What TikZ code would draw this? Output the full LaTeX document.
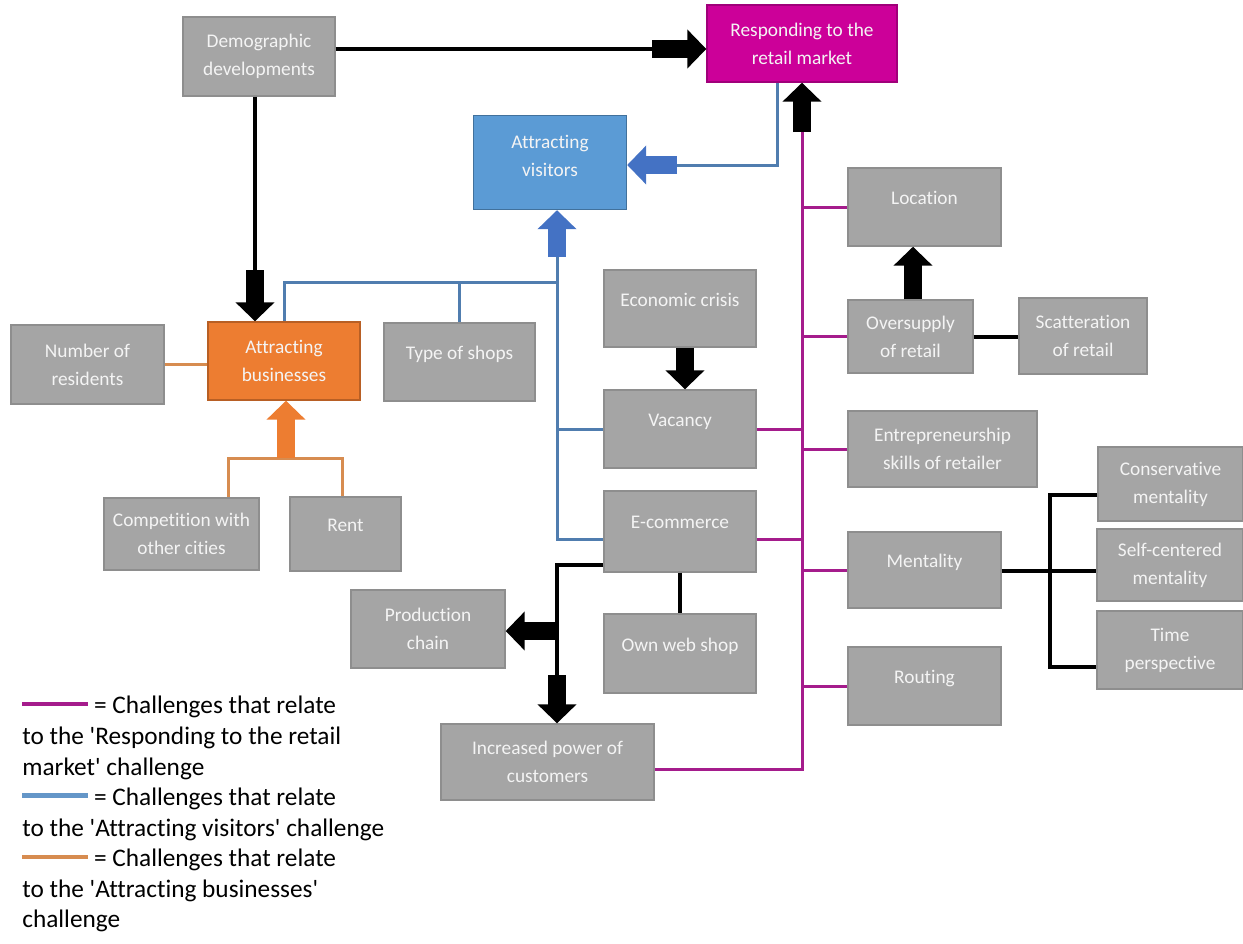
\documentclass[tikz,border=0pt]{standalone}
\usepackage{fontspec}
\setmainfont{Carlito}[Ligatures={NoCommon}]
\usetikzlibrary{arrows.meta}

\definecolor{boxgray}{HTML}{A5A5A5}
\definecolor{boxedge}{HTML}{8E8E8E}
\definecolor{boxtext}{HTML}{F4F4F4}
\definecolor{retail}{HTML}{CC0099}
\definecolor{retailedge}{HTML}{A0007A}
\definecolor{visit}{HTML}{5B9BD5}
\definecolor{visitedge}{HTML}{41719C}
\definecolor{busi}{HTML}{ED7D31}
\definecolor{busiedge}{HTML}{B85F24}
\definecolor{magline}{RGB}{165,28,140}
\definecolor{blueline}{RGB}{80,125,175}
\definecolor{legblue}{RGB}{100,150,200}
\definecolor{orgline}{RGB}{215,140,80}
\definecolor{bluearrow}{HTML}{4472C4}

\newcommand{\keyline}[1]{{\color{#1}\rule[0.3em]{1.32cm}{2.6pt}}}

\tikzset{
  box/.style={draw=boxedge, fill=boxgray, text=boxtext, line width=0.8pt, align=center,
    inner sep=0pt, font=\fontsize{11}{15.9}\selectfont},
  sz/.style 2 args={minimum width=#1*0.02cm, minimum height=#2*0.02cm},
  one/.style={text depth=0.36cm},
  mline/.style={draw=magline, line width=0.06cm},
  bline/.style={draw=blueline, line width=0.06cm},
  oline/.style={draw=orgline, line width=0.06cm},
  kline/.style={draw=black, line width=0.08cm},
  blk/.style={line width=0.36cm, -{Triangle[width=0.76cm,length=0.38cm]}},
}

\begin{document}
\begin{tikzpicture}[x=0.02cm, y=-0.02cm]
  \useasboundingbox (0,0) rectangle (1243,943);

  \node[box, sz={152}{79}] (demo) at (259,56.5) {Demographic\\developments};
  \node[box, sz={190}{77}, fill=retail, draw=retailedge] (rmkt) at (802,43.5) {Responding to the\\retail market};
  \node[box, sz={153}{94}, fill=visit, draw=visitedge] (avis) at (550,162.5) {Attracting\\visitors\\[-8pt]\mbox{}};
  \node[box, sz={152}{78}, fill=busi, draw=busiedge] (abus) at (284,361) {Attracting\\businesses};
  \node[box, sz={153}{79}] (nres) at (87.5,364.5) {Number of\\residents};
  \node[box, sz={151}{78}, one] (tshop) at (459.5,362) {Type of shops};
  \node[box, sz={155}{72}] (comp) at (181.5,534) {Competition with\\other cities};
  \node[box, sz={111}{74}, one] (rent) at (345.5,534) {Rent};
  \node[box, sz={152}{77}, one] (ecris) at (680,308.5) {Economic crisis};
  \node[box, sz={152}{78}, one] (vac) at (680,429) {Vacancy};
  \node[box, sz={152}{81}, one] (ecom) at (680,531.5) {E-commerce};
  \node[box, sz={152}{79}, one] (wshop) at (680,653.5) {Own web shop};
  \node[box, sz={154}{78}] (prod) at (428,629) {Production\\chain};
  \node[box, sz={213}{76}] (ipow) at (547.5,762) {Increased power of\\customers};
  \node[box, sz={153}{78}, one] (loc) at (924.5,207) {Location};
  \node[box, sz={125}{73}] (osup) at (910.5,336.5) {Oversupply\\of retail};
  \node[box, sz={128}{76}] (scat) at (1083,336) {Scatteration\\of retail};
  \node[box, sz={189}{76}] (entr) at (942.5,449) {Entrepreneurship\\skills of retailer};
  \node[box, sz={153}{76}, one] (ment) at (924.5,570) {Mentality};
  \node[box, sz={153}{78}, one] (rout) at (924.5,686) {Routing};
  \node[box, sz={145}{74}] (cons) at (1170.5,484) {Conservative\\mentality};
  \node[box, sz={146}{72}] (selfc) at (1170,565) {Self-centered\\mentality};
  \node[box, sz={146}{78}] (tpers) at (1170,650) {Time\\perspective};

  \coordinate (dm) at (652,49);
  \coordinate (dd) at (255,270);
  \draw[kline] (demo.east |- dm) -- (dm);
  \draw[blk] (dm) -- (rmkt.west |- dm);
  \draw[kline] (demo.south -| dd) -- (dd);
  \draw[blk] (dd) -- (abus.north -| dd);

  \coordinate (mtop) at (802,132);
  \coordinate (mbot) at (802,769);
  \coordinate (ecb) at (0,539);
  \draw[blk] (mtop) -- (rmkt.south -| mtop);
  \draw[mline] (mtop) -- (mbot) -- (ipow.east |- mbot);
  \foreach \n in {loc,osup,entr,ment,rout}
    \draw[mline] (\n.west) -- (\n.west -| mtop);
  \draw[mline] (vac.east) -- (vac.east -| mtop);
  \draw[mline] (ecom.east |- ecb) -- (mtop |- ecb);

  \coordinate (vr) at (777,165);
  \coordinate (va) at (677,165);
  \coordinate (vb) at (557,257);
  \coordinate (vt) at (557,282);
  \draw[bline] (rmkt.south -| vr) -- (vr) -- (va);
  \draw[blk, bluearrow] (va) -- (avis.east |- va);
  \draw[blk, bluearrow] (vb) -- (avis.south -| vb);
  \draw[bline] (vb) -- (vb |- ecb) -- (ecom.west |- ecb);
  \draw[bline] (vt) -- (vt -| abus.north) -- (abus.north);
  \draw[bline] (tshop.north) -- (tshop.north |- vt);
  \draw[bline] (vac.west) -- (vac.west -| vb);

  \coordinate (ek) at (557,565);
  \coordinate (ep) at (557,631);
  \coordinate (ei) at (557,675);
  \draw[kline] (ecom.west |- ek) -- (ek) -- (ei);
  \draw[blk] (ep) -- (prod.east |- ep);
  \draw[blk] (ei) -- (ipow.north -| ei);
  \draw[kline] (ecom.south) -- (wshop.north);

  \draw[blk] (osup.north -| 913,0) -- (loc.south -| 913,0);
  \draw[kline] (osup.east) -- (scat.west |- osup.east);
  \draw[blk] (ecris.south -| 685,0) -- (vac.north -| 685,0);

  \coordinate (ob) at (286,458);
  \coordinate (ol) at (228,458);
  \coordinate (or) at (342,458);
  \draw[oline] (nres.east) -- (nres.east -| abus.west);
  \draw[oline] (comp.north -| ol) -- (ol) -- (or) -- (rent.north -| or);
  \draw[blk, busi] (ob) -- (abus.south -| ob);

  \coordinate (mk) at (1050,571);
  \coordinate (mt) at (1050,495);
  \coordinate (mb) at (1050,667);
  \draw[kline] (ment.east |- mk) -- (mk) -- (selfc.west |- mk);
  \draw[kline] (cons.west |- mt) -- (mt) -- (mb) -- (tpers.west |- mb);

  \node[anchor=north west, align=left, inner sep=0pt, font=\fontsize{14.4}{17.4}\selectfont] (legend) at (22,696)
    {\keyline{magline} = Challenges that relate\\
     to the \textquotesingle Responding to the retail\\
     market\textquotesingle\ challenge\\
     \keyline{legblue} = Challenges that relate\\
     to the \textquotesingle Attracting visitors\textquotesingle\ challenge\\
     \keyline{orgline} = Challenges that relate\\
     to the \textquotesingle Attracting businesses\textquotesingle\\
     challenge};
\end{tikzpicture}
\end{document}
